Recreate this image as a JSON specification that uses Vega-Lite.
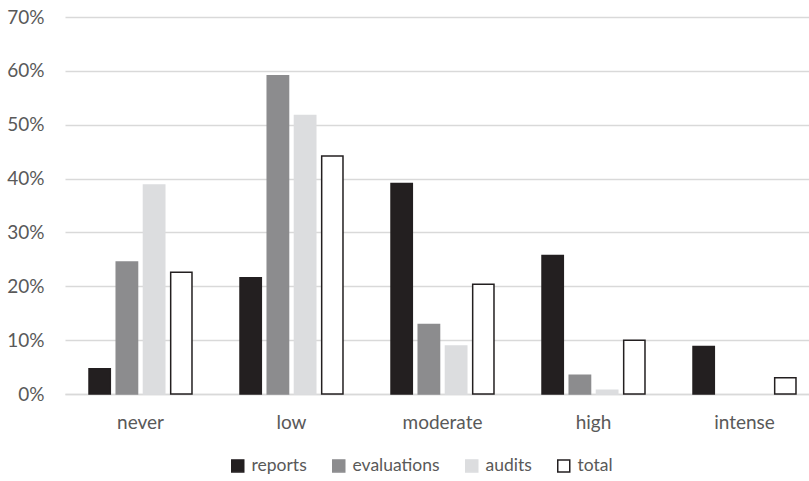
{
  "$schema": "https://vega.github.io/schema/vega-lite/v6.json",
  "width": 745,
  "height": 377,
  "autosize": {"type": "none"},
  "padding": {"left": 64, "top": 17, "right": 0, "bottom": 87},
  "background": "#ffffff",
  "data": {
    "values": [
      {"level": "never", "series": "reports", "share": 0.047},
      {"level": "never", "series": "evaluations", "share": 0.245},
      {"level": "never", "series": "audits", "share": 0.388},
      {"level": "never", "series": "total", "share": 0.226},
      {"level": "low", "series": "reports", "share": 0.216},
      {"level": "low", "series": "evaluations", "share": 0.591},
      {"level": "low", "series": "audits", "share": 0.517},
      {"level": "low", "series": "total", "share": 0.442},
      {"level": "moderate", "series": "reports", "share": 0.391},
      {"level": "moderate", "series": "evaluations", "share": 0.129},
      {"level": "moderate", "series": "audits", "share": 0.089},
      {"level": "moderate", "series": "total", "share": 0.204},
      {"level": "high", "series": "reports", "share": 0.257},
      {"level": "high", "series": "evaluations", "share": 0.035},
      {"level": "high", "series": "audits", "share": 0.007},
      {"level": "high", "series": "total", "share": 0.1},
      {"level": "intense", "series": "reports", "share": 0.088},
      {"level": "intense", "series": "evaluations", "share": 0},
      {"level": "intense", "series": "audits", "share": 0},
      {"level": "intense", "series": "total", "share": 0.03}
    ]
  },
  "transform": [{"filter": "datum.share > 0"}],
  "mark": {"type": "bar", "strokeWidth": 1.5, "strokeJoin": "miter"},
  "encoding": {
    "x": {
      "field": "level",
      "type": "nominal",
      "sort": ["never", "low", "moderate", "high", "intense"],
      "scale": {"range": [1, 756], "paddingInner": 0.318, "paddingOuter": 0.159},
      "axis": {
        "title": null,
        "labelAngle": 0,
        "labelFont": "Lato",
        "labelFontSize": 19,
        "labelColor": "#595959",
        "labelBaseline": "alphabetic",
        "labelPadding": 34,
        "ticks": false,
        "domain": true,
        "domainColor": "#d9d9d9",
        "domainWidth": 1.5
      }
    },
    "xOffset": {
      "field": "series",
      "type": "nominal",
      "sort": ["reports", "evaluations", "audits", "total"],
      "scale": {"domain": ["reports", "evaluations", "audits", "total"], "paddingInner": 0.217, "paddingOuter": 0}
    },
    "y": {
      "field": "share",
      "type": "quantitative",
      "scale": {"domain": [0, 0.7], "nice": false},
      "axis": {
        "title": null,
        "format": ".0%",
        "values": [0, 0.1, 0.2, 0.3, 0.4, 0.5, 0.6, 0.7],
        "labelFont": "Lato",
        "labelFontSize": 19,
        "labelColor": "#595959",
        "labelPadding": 20,
        "ticks": false,
        "domain": false,
        "grid": true,
        "gridColor": "#d9d9d9",
        "gridWidth": 1.5
      }
    },
    "fill": {
      "field": "series",
      "type": "nominal",
      "scale": {
        "domain": ["reports", "evaluations", "audits", "total"],
        "range": ["#231f20", "#8c8c8e", "#dcdddf", "#ffffff"]
      },
      "legend": {
        "title": null,
        "orient": "none",
        "direction": "horizontal",
        "legendX": 165,
        "legendY": 440,
        "symbolType": "square",
        "symbolSize": 144,
        "symbolStrokeWidth": 1.5,
        "labelFont": "Lato",
        "labelFontSize": 17.5,
        "labelColor": "#595959",
        "labelOffset": 5,
        "columnPadding": 22
      }
    },
    "stroke": {
      "field": "series",
      "type": "nominal",
      "scale": {
        "domain": ["reports", "evaluations", "audits", "total"],
        "range": ["#231f20", "#8c8c8e", "#dcdddf", "#231f20"]
      },
      "legend": {
        "title": null,
        "orient": "none",
        "direction": "horizontal",
        "legendX": 165,
        "legendY": 440,
        "symbolType": "square",
        "symbolSize": 144,
        "symbolStrokeWidth": 1.5,
        "labelFont": "Lato",
        "labelFontSize": 17.5,
        "labelColor": "#595959",
        "labelOffset": 5,
        "columnPadding": 22
      }
    }
  },
  "config": {
    "view": {"stroke": null}
  }
}
